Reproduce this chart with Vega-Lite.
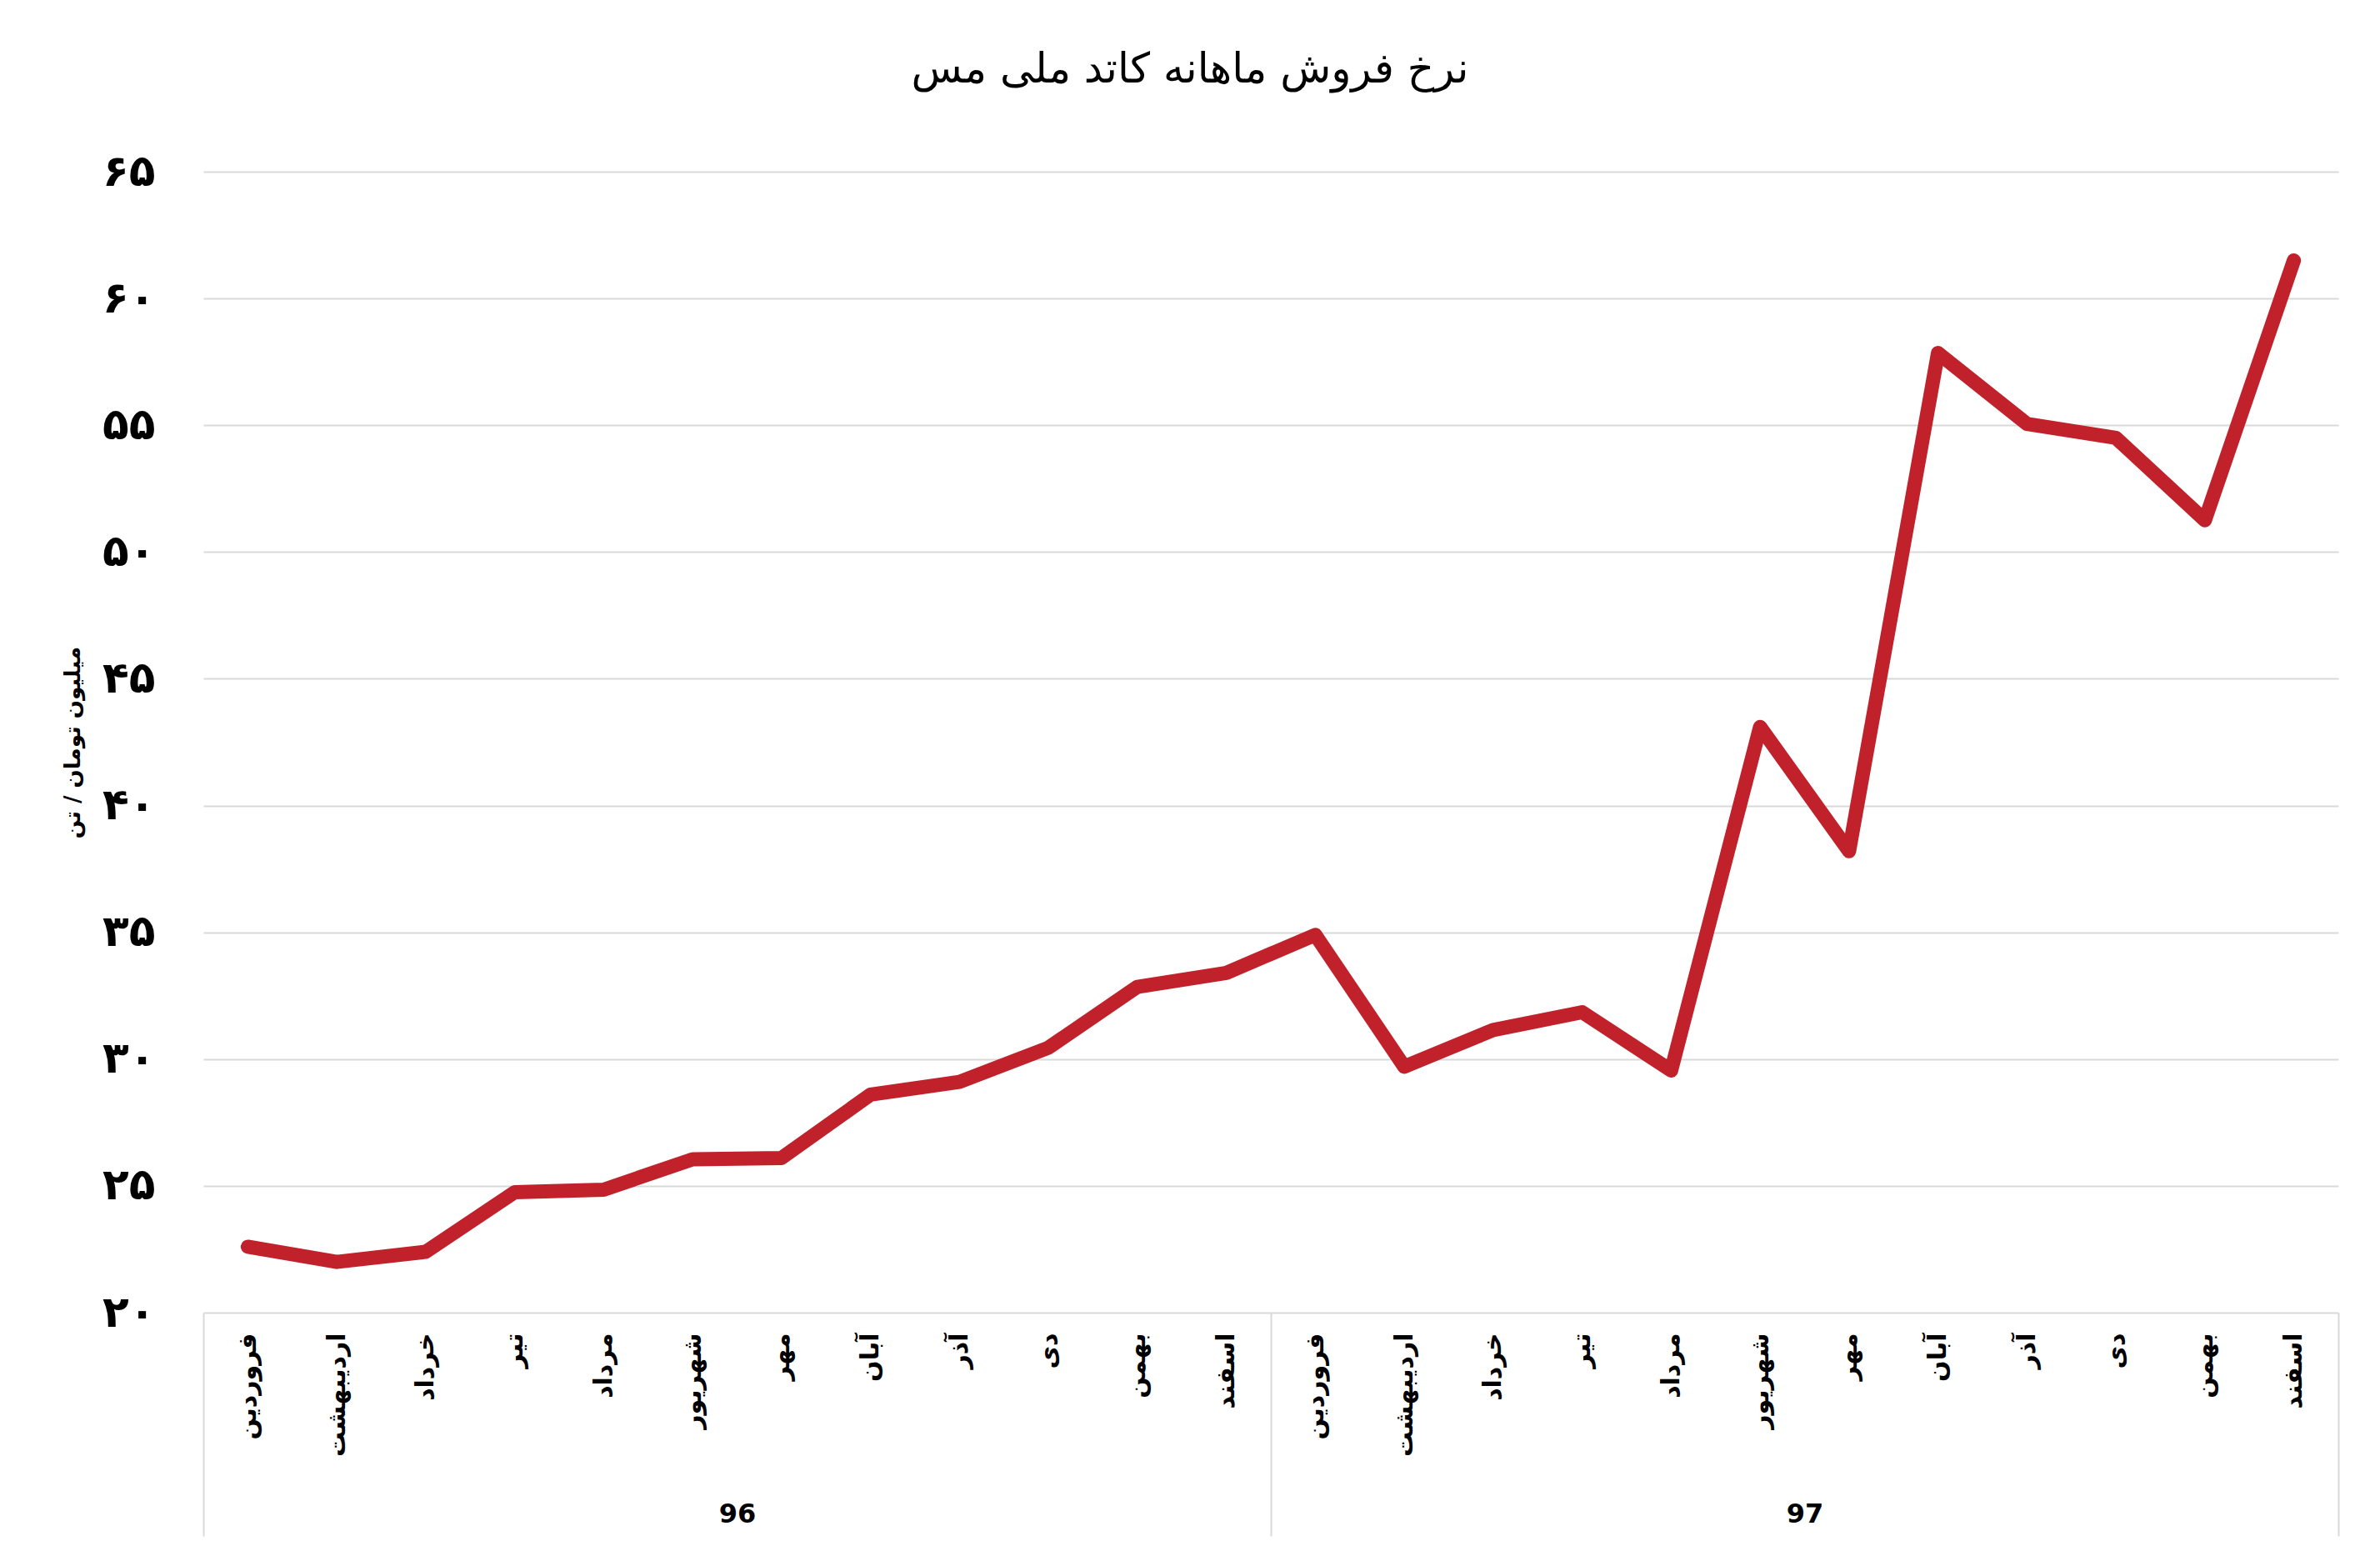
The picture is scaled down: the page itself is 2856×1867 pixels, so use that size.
{
  "$schema": "https://vega.github.io/schema/vega-lite/v6.json",
  "autosize": {"type": "none"},
  "width": 2562,
  "height": 1369,
  "padding": {"left": 244, "top": 206, "right": 50, "bottom": 292},
  "background": "white",
  "config": {
    "font": "DejaVu Sans",
    "view": {"stroke": null}
  },
  "title": {
    "text": "نرخ فروش ماهانه کاتد ملی مس",
    "font": "DejaVu Sans",
    "fontSize": 50,
    "fontWeight": "normal",
    "color": "black",
    "anchor": "middle",
    "frame": "group",
    "dx": -97,
    "baseline": "alphabetic",
    "offset": 31
  },
  "data": {
    "values": [
      {"i": 0, "year": "96", "month": "فروردین", "price": 22.6},
      {"i": 1, "year": "96", "month": "اردیبهشت", "price": 22.0},
      {"i": 2, "year": "96", "month": "خرداد", "price": 22.4},
      {"i": 3, "year": "96", "month": "تیر", "price": 24.75},
      {"i": 4, "year": "96", "month": "مرداد", "price": 24.85},
      {"i": 5, "year": "96", "month": "شهریور", "price": 26.05},
      {"i": 6, "year": "96", "month": "مهر", "price": 26.1},
      {"i": 7, "year": "96", "month": "آبان", "price": 28.6},
      {"i": 8, "year": "96", "month": "آذر", "price": 29.1},
      {"i": 9, "year": "96", "month": "دی", "price": 30.45},
      {"i": 10, "year": "96", "month": "بهمن", "price": 32.85},
      {"i": 11, "year": "96", "month": "اسفند", "price": 33.4},
      {"i": 12, "year": "97", "month": "فروردین", "price": 34.9},
      {"i": 13, "year": "97", "month": "اردیبهشت", "price": 29.7},
      {"i": 14, "year": "97", "month": "خرداد", "price": 31.15},
      {"i": 15, "year": "97", "month": "تیر", "price": 31.85},
      {"i": 16, "year": "97", "month": "مرداد", "price": 29.55},
      {"i": 17, "year": "97", "month": "شهریور", "price": 43.1},
      {"i": 18, "year": "97", "month": "مهر", "price": 38.2},
      {"i": 19, "year": "97", "month": "آبان", "price": 57.85},
      {"i": 20, "year": "97", "month": "آذر", "price": 55.05},
      {"i": 21, "year": "97", "month": "دی", "price": 54.5},
      {"i": 22, "year": "97", "month": "بهمن", "price": 51.25},
      {"i": 23, "year": "97", "month": "اسفند", "price": 61.5}
    ]
  },
  "layer": [
    {
      "mark": {"type": "line", "color": "#c1212b", "strokeWidth": 17, "strokeCap": "round", "strokeJoin": "round"},
      "encoding": {
        "x": {
          "field": "i",
          "type": "quantitative",
          "scale": {"domain": [-0.5, 23.5], "nice": false, "zero": false},
          "axis": {
            "orient": "bottom",
            "title": null,
            "values": [0, 1, 2, 3, 4, 5, 6, 7, 8, 9, 10, 11, 12, 13, 14, 15, 16, 17, 18, 19, 20, 21, 22, 23],
            "labelExpr": "['فروردین','اردیبهشت','خرداد','تیر','مرداد','شهریور','مهر','آبان','آذر','دی','بهمن','اسفند'][datum.value % 12]",
            "labelAngle": -90,
            "labelFontSize": 30,
            "labelFontWeight": "bold",
            "labelColor": "black",
            "labelPadding": 24,
            "labelOverlap": false,
            "labelFlush": false,
            "ticks": false,
            "domain": false,
            "grid": false
          }
        },
        "y": {
          "field": "price",
          "type": "quantitative",
          "scale": {"domain": [20, 65], "nice": false, "zero": false},
          "axis": {
            "title": "میلیون تومان / تن",
            "titleFontSize": 26,
            "titleFontWeight": "bold",
            "titleColor": "black",
            "titlePadding": 22,
            "values": [20, 25, 30, 35, 40, 45, 50, 55, 60, 65],
            "labelExpr": "substring('۰۱۲۳۴۵۶۷۸۹', floor(datum.value / 10), floor(datum.value / 10) + 1) + substring('۰۱۲۳۴۵۶۷۸۹', datum.value % 10, datum.value % 10 + 1)",
            "labelFontSize": 52,
            "labelFontWeight": "bold",
            "labelColor": "black",
            "labelPadding": 58,
            "ticks": false,
            "domain": false,
            "gridColor": "#d9d9d9",
            "gridWidth": 2
          }
        }
      }
    },
    {
      "mark": {"type": "point", "opacity": 0},
      "encoding": {
        "x": {
          "field": "i",
          "type": "quantitative",
          "axis": {
            "orient": "bottom",
            "title": null,
            "values": [-0.5, 11.5, 23.5],
            "labels": false,
            "domain": false,
            "grid": false,
            "ticks": true,
            "tickSize": 268,
            "tickColor": "#d9d9d9",
            "tickWidth": 2
          }
        }
      }
    },
    {
      "mark": {"type": "point", "opacity": 0},
      "encoding": {
        "x": {
          "field": "i",
          "type": "quantitative",
          "axis": {
            "orient": "bottom",
            "title": null,
            "values": [5.5, 17.5],
            "labelExpr": "datum.value < 12 ? '96' : '97'",
            "labelFontSize": 32,
            "labelFontWeight": "bold",
            "labelColor": "black",
            "labelAngle": 0,
            "labelPadding": 226,
            "labelFlush": false,
            "ticks": false,
            "domain": false,
            "grid": false
          }
        }
      }
    }
  ],
  "resolve": {"axis": {"x": "independent"}}
}
